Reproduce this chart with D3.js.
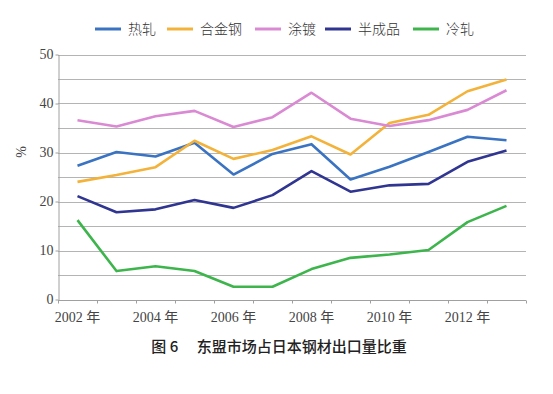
<!DOCTYPE html>
<html lang="zh">
<head>
<meta charset="UTF-8" />
<title>东盟市场占日本钢材出口量比重</title>
<script src="https://d3js.org/d3.v7.min.js"></script>
<style>
  body { margin: 0; background: #fff; }
  .grid line { stroke: #b4b4b4; stroke-width: 1px; }
  .axis path, .axis line { stroke: #a0a0a0; }
  .axis text { font-family: "Liberation Serif", "Noto Sans CJK SC", serif; font-size: 14px; fill: #444; }
  .series { fill: none; stroke-width: 2.6px; stroke-linejoin: round; }
  .legend text { font-family: "Noto Sans CJK SC", serif; font-size: 14px; font-weight: 300; fill: #333; }
</style>
</head>
<body>
<script>
  // years along the x axis
  const years = [2002, 2003, 2004, 2005, 2006, 2007, 2008, 2009, 2010, 2011, 2012, 2013];
  const labelYears = [2002, 2004, 2006, 2008, 2010, 2012];
  const yTicks = [0, 10, 20, 30, 40, 50];

  // share of exports to ASEAN, %
  const hotRolled  = [27.3, 30.1, 29.2, 32.0, 25.5, 29.7, 31.7, 24.5, 27.1, 30.1, 33.2, 32.5];
  const alloySteel = [24.0, 25.4, 27.0, 32.4, 28.7, 30.5, 33.3, 29.6, 36.0, 37.7, 42.5, 44.9];
  const coated     = [36.6, 35.3, 37.4, 38.5, 35.2, 37.2, 42.2, 36.9, 35.4, 36.6, 38.7, 42.7];
  const semiFinish = [21.1, 17.8, 18.4, 20.3, 18.7, 21.3, 26.2, 22.0, 23.3, 23.6, 28.1, 30.4];
  const coldRolled = [16.2, 5.8, 6.8, 5.8, 2.6, 2.6, 6.2, 8.5, 9.2, 10.1, 15.8, 19.1];

  const seriesNames = ["热轧", "合金钢", "涂镀", "半成品", "冷轧"];
  const seriesColors = ["#3a73c2", "#f3b23a", "#d98ad3", "#2f3590", "#3db54c"];
  const seriesValues = [hotRolled, alloySteel, coated, semiFinish, coldRolled];

  const W = 553, H = 394;
  const plot = { left: 58, right: 526, top: 54.5, bottom: 299.5 };

  const svg = d3.select("body").append("svg")
    .attr("width", W).attr("height", H);

  const x = d3.scaleBand().domain(years).range([plot.left, plot.right]);
  const y = d3.scaleLinear().domain([0, 50]).range([plot.bottom, plot.top]);

  // horizontal gridlines every 5
  svg.append("g").attr("class", "grid")
    .selectAll("line")
    .data(d3.range(5, 51, 5))
    .join("line")
      .attr("x1", plot.left).attr("x2", plot.right)
      .attr("y1", d => Math.round(y(d)) + 0.5)
      .attr("y2", d => Math.round(y(d)) + 0.5);

  // y axis
  const yAxis = svg.append("g").attr("class", "axis")
    .attr("transform", `translate(${plot.left + 0.5},0)`)
    .call(d3.axisLeft(y).tickValues(yTicks).tickSize(3).tickSizeOuter(0));
  yAxis.selectAll("text").attr("x", -5);

  // x axis, ticks on the band edges
  const xAxis = svg.append("g").attr("class", "axis")
    .attr("transform", `translate(0,${Math.round(plot.bottom) + 0.5})`);
  xAxis.append("line")
    .attr("x1", plot.left).attr("x2", plot.right);
  xAxis.selectAll(".tk")
    .data(years.concat([null]))
    .join("line")
      .attr("class", "tk")
      .attr("x1", (d, i) => Math.round(plot.left + i * x.step()) + 0.5)
      .attr("x2", (d, i) => Math.round(plot.left + i * x.step()) + 0.5)
      .attr("y1", 0).attr("y2", 3);
  xAxis.selectAll(".lbl")
    .data(labelYears)
    .join("text")
      .attr("class", "lbl")
      .attr("x", d => x(d) + x.bandwidth() / 2)
      .attr("y", 21)
      .attr("text-anchor", "middle")
      .text(d => d + " 年");

  // y axis title
  svg.append("text")
    .attr("class", "axis")
    .attr("transform", "translate(26,152) rotate(-90)")
    .attr("text-anchor", "middle")
    .style("font-family", "Liberation Serif, serif")
    .style("font-size", "14px")
    .style("fill", "#444")
    .text("%");

  // lines
  const line = d3.line()
    .x((d, i) => x(years[i]) + x.bandwidth() / 2)
    .y(d => y(d));

  svg.selectAll(".series")
    .data(seriesValues)
    .join("path")
      .attr("class", "series")
      .attr("stroke", (d, i) => seriesColors[i])
      .attr("d", line);

  // legend
  const legendX = [95, 167, 255, 325, 413];
  const legend = svg.append("g").attr("class", "legend");
  const item = legend.selectAll("g")
    .data(seriesNames)
    .join("g")
      .attr("transform", (d, i) => `translate(${legendX[i]},29)`);
  item.append("line")
    .attr("x1", 0).attr("x2", 26)
    .attr("stroke", (d, i) => seriesColors[i])
    .attr("stroke-width", 3);
  item.append("text")
    .attr("x", 33).attr("y", 5)
    .text(d => d);

  // caption
  svg.append("text")
    .attr("x", 279).attr("y", 352)
    .attr("text-anchor", "middle")
    .style("font-family", "Noto Sans CJK SC, sans-serif")
    .style("font-size", "15px")
    .style("font-weight", "500")
    .style("fill", "#222")
    .attr("xml:space", "preserve")
    .text("图 6　 东盟市场占日本钢材出口量比重");
</script>
</body>
</html>
